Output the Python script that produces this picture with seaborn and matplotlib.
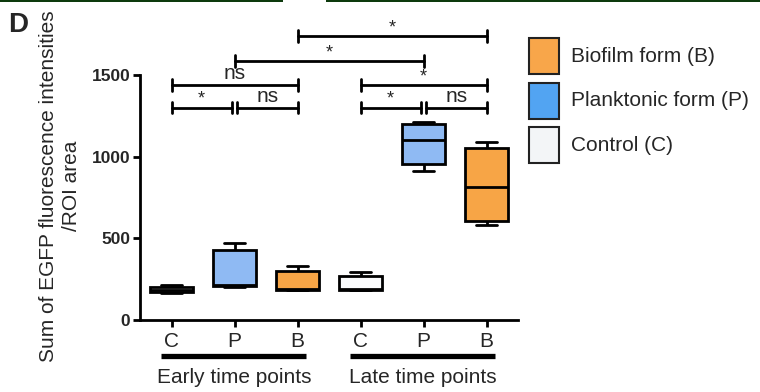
import numpy as np
import pandas as pd
import matplotlib.pyplot as plt
import seaborn as sns
from matplotlib.patches import Rectangle
import matplotlib.transforms as mtransforms

sns.set_style("white")
plt.rcParams['font.family'] = ['Liberation Sans', 'DejaVu Sans']

# groups along the x axis (early C, P, B then late C, P, B)
groups = ["early_C", "early_P", "early_B", "late_C", "late_P", "late_B"]
tick_labels = ["C", "P", "B", "C", "P", "B"]
forms = ["Control (C)", "Planktonic form (P)", "Biofilm form (B)",
         "Control (C)", "Planktonic form (P)", "Biofilm form (B)"]

# min, q1, median, q3, max
early_c = [165, 172, 185, 200, 210]
early_p = [200, 205, 212, 425, 470]
early_b = [180, 183, 188, 300, 330]
late_c = [180, 184, 190, 265, 295]
late_p = [913, 954, 1100, 1198, 1214]
late_b = [578, 608, 816, 1055, 1092]
values = [early_c, early_p, early_b, late_c, late_p, late_b]

legend_names = ["Biofilm form (B)", "Planktonic form (P)", "Control (C)"]
legend_colors = ["#f8a64a", "#52a4f2", "#f3f5f7"]
box_colors = {"Control (C)": "#fafbfc", "Planktonic form (P)": "#8fbaf3",
              "Biofilm form (B)": "#f7a546"}

# significance brackets: (x from, x to, height, label)
brackets = [(0, 0.96, 1300, "*"), (1.04, 2, 1300, "ns"), (0, 2, 1440, "ns"),
            (3, 3.96, 1300, "*"), (4.04, 5, 1300, "ns"), (3, 5, 1440, "*"),
            (1, 4, 1588, "*"), (2, 5, 1740, "*")]

rows = []
for g, f, vals in zip(groups, forms, values):
    for v in vals:
        rows.append({"group": g, "form": f, "value": v})
df = pd.DataFrame(rows)

fig = plt.figure(figsize=(7.6, 3.92), dpi=100)
ax = fig.add_axes([140 / 760, 1 - 319.7 / 392, 378 / 760, 244.7 / 392])

sns.boxplot(data=df, x="group", y="value", hue="form", order=groups,
            palette=box_colors, saturation=1, dodge=False, width=0.68, whis=np.inf,
            linewidth=2, linecolor="black", legend=False, ax=ax)

ax.set_xlim(-0.5, 5.5)
ax.set_ylim(0, 1500)
ax.set_yticks([0, 500, 1000, 1500])
ax.set_yticklabels(["0", "500", "1000", "1500"], fontsize=12.5, fontweight="bold")
ax.set_xticks(range(6))
ax.set_xticklabels(tick_labels, fontsize=15)
ax.tick_params(axis="both", direction="out", length=5, width=2, color="black",
               left=True, bottom=True)
ax.tick_params(axis="x", pad=4)
ax.tick_params(axis="y", pad=2)
ax.set_xlabel("")
ax.set_ylabel("")
sns.despine(ax=ax)
for s in ["left", "bottom"]:
    ax.spines[s].set_linewidth(2)
    ax.spines[s].set_color("black")

# brackets
cap = 36
for x1, x2, y, lab in brackets:
    ax.plot([x1, x2], [y, y], color="black", lw=2, clip_on=False)
    ax.plot([x1, x1], [y - cap, y + cap], color="black", lw=2, clip_on=False)
    ax.plot([x2, x2], [y - cap, y + cap], color="black", lw=2, clip_on=False)
    xm = (x1 + x2) / 2
    if lab == "*":
        ax.text(xm, y + 50, lab, ha="center", va="center", fontsize=13, clip_on=False)
    else:
        ax.text(xm, y + 12, lab, ha="center", va="bottom", fontsize=15, clip_on=False)

# group bars under the x axis
trans = mtransforms.blended_transform_factory(ax.transData, ax.transAxes)
for xa, xb, name in [(-0.16, 2.14, "Early time points"), (2.84, 5.14, "Late time points")]:
    ax.plot([xa, xb], [-0.148, -0.148], color="black", lw=3.8, transform=trans,
            clip_on=False, solid_capstyle="butt")
    ax.text((xa + xb) / 2, -0.235, name, transform=trans, ha="center", va="center",
            fontsize=15)

# y label
fig.text(60 / 760, 1 - 186 / 392, "Sum of EGFP fluorescence intensities\n/ROI area",
         rotation=90, ha="center", va="center", fontsize=15, linespacing=1.3,
         multialignment="center")

# panel letter
fig.text(8 / 760, 1 - 32 / 392, "D", fontsize=20, fontweight="bold", va="baseline")

# legend
tops = [38, 83, 127]
for top, name, col in zip(tops, legend_names, legend_colors):
    fig.patches.append(Rectangle((529 / 760, 1 - (top + 36) / 392), 30 / 760, 36 / 392,
                                 transform=fig.transFigure, facecolor=col,
                                 edgecolor="#222222", lw=1.5))
    fig.text(571 / 760, 1 - (top + 18) / 392, name, fontsize=15, va="center")

# dark strips at the top edge
for xa, xb in [(0, 283), (326, 760)]:
    fig.patches.append(Rectangle((xa / 760, 1 - 2 / 392), (xb - xa) / 760, 2 / 392,
                                 transform=fig.transFigure, facecolor="#0d3a0d",
                                 edgecolor="none"))

fig.savefig("out.png", dpi=100)
